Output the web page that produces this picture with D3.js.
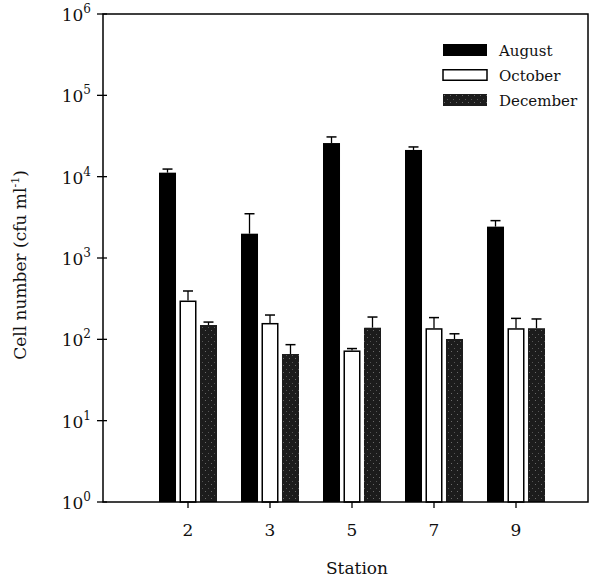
<!DOCTYPE html>
<html>
<head>
<meta charset="utf-8">
<script src="https://cdn.jsdelivr.net/npm/d3@7"></script>
<style>
body{margin:0;background:#fff;}
text{font-family:"DejaVu Serif","Liberation Serif",serif;fill:#111;}
</style>
</head>
<body>
<div id="chart"></div>
<script>
//数据
var stations=["2","3","5","7","9"];
var seriesNames=["August","October","December"];
var august=[11200,1990,25900,21300,2430];
var augustErr=[12400,3500,30800,23200,2880];
var october=[300,159,73,137,137];
var octoberErr=[393,199,77,185,181];
var december=[150,66,139,101,137];
var decemberErr=[163,86,188,117,178];
var yTicks=[0,1,2,3,4,5,6];

var svgwidth=598,svgheight=578;
var _svg=d3.select("#chart").append("svg")
    .attr("width",svgwidth)
    .attr("height",svgheight);

//图案(十二月的点状填充)
var defs=_svg.append("defs");
var pat=defs.append("pattern")
    .attr("id","stip")
    .attr("width",6).attr("height",7)
    .attr("patternUnits","userSpaceOnUse");
pat.append("rect").attr("width",6).attr("height",7).attr("fill","#1c1c1c");
pat.append("rect").attr("x",1).attr("y",1).attr("width",1).attr("height",1).attr("fill","#6a6a6a");
pat.append("rect").attr("x",4).attr("y",5).attr("width",1).attr("height",1).attr("fill","#555");

//绘图区边界
var pLeft=103,pRight=588,pTop=14,pBottom=502;

var y=d3.scaleLog().domain([1,1e6]).range([pBottom,pTop]);
var x=d3.scaleBand().domain(stations).range([147,557]).padding(0);
var sub=d3.scaleBand().domain(seriesNames).range([-29,29]).paddingInner(0.17);

var fills={August:"#000",October:"#fff",December:"url(#stip)"};
var vals={August:august,October:october,December:december};
var errs={August:augustErr,October:octoberErr,December:decemberErr};

function cx(s,i){
    return x(stations[i])+x.bandwidth()/2+sub(s)+sub.bandwidth()/2;
}

var g=_svg.append("g");

//柱子
seriesNames.forEach(function(s){
    var gs=g.append("g").attr("class","bars-"+s);
    gs.selectAll("line.err")
        .data(vals[s])
        .enter()
        .append("line")
        .attr("x1",function(d,i){return cx(s,i);})
        .attr("x2",function(d,i){return cx(s,i);})
        .attr("y1",function(d){return y(d);})
        .attr("y2",function(d,i){return y(errs[s][i]);})
        .attr("stroke","#000").attr("stroke-width",1.3);
    gs.selectAll("line.cap")
        .data(errs[s])
        .enter()
        .append("line")
        .attr("x1",function(d,i){return cx(s,i)-5;})
        .attr("x2",function(d,i){return cx(s,i)+5;})
        .attr("y1",function(d){return y(d);})
        .attr("y2",function(d){return y(d);})
        .attr("stroke","#000").attr("stroke-width",1.5);
    var o=(s=="October")?0.75:0;
    gs.selectAll("rect")
        .data(vals[s])
        .enter()
        .append("rect")
        .attr("x",function(d,i){return cx(s,i)-sub.bandwidth()/2+o;})
        .attr("y",function(d){return y(d)+o;})
        .attr("width",sub.bandwidth()-2*o)
        .attr("height",function(d){return pBottom-y(d)-o;})
        .attr("fill",fills[s])
        .attr("stroke",s=="October"?"#000":"none")
        .attr("stroke-width",1.5);
});

//边框
g.append("rect")
    .attr("x",pLeft).attr("y",pTop)
    .attr("width",pRight-pLeft).attr("height",pBottom-pTop)
    .attr("fill","none").attr("stroke","#000").attr("stroke-width",1.5);

//y轴刻度
var gy=g.append("g");
gy.selectAll("line")
    .data(yTicks)
    .enter()
    .append("line")
    .attr("x1",pLeft-6).attr("x2",pLeft+4)
    .attr("y1",function(d){return y(Math.pow(10,d));})
    .attr("y2",function(d){return y(Math.pow(10,d));})
    .attr("stroke","#000").attr("stroke-width",1.3);
var ylab=gy.selectAll("text")
    .data(yTicks)
    .enter()
    .append("text")
    .attr("x",91)
    .attr("y",function(d){return y(Math.pow(10,d))+7;})
    .attr("text-anchor","end")
    .attr("font-size","17px");
ylab.append("tspan").text("10");
ylab.append("tspan").attr("dy",-8).attr("font-size","12px").text(function(d){return d;});

//x轴刻度
var gx=g.append("g");
gx.selectAll("line")
    .data(stations)
    .enter()
    .append("line")
    .attr("x1",function(d){return x(d)+x.bandwidth()/2;})
    .attr("x2",function(d){return x(d)+x.bandwidth()/2;})
    .attr("y1",pBottom).attr("y2",pBottom+6)
    .attr("stroke","#000").attr("stroke-width",1.3);
gx.selectAll("text")
    .data(stations)
    .enter()
    .append("text")
    .attr("x",function(d){return x(d)+x.bandwidth()/2;})
    .attr("y",536)
    .attr("text-anchor","middle")
    .attr("font-size","17px")
    .text(function(d){return d;});

//轴标题
g.append("text")
    .attr("x",357).attr("y",574)
    .attr("text-anchor","middle")
    .attr("font-size","17px")
    .text("Station");
var yt=g.append("text")
    .attr("transform","translate(26,265) rotate(-90)")
    .attr("text-anchor","middle")
    .attr("font-size","17px");
yt.append("tspan").text("Cell number (cfu ml");
yt.append("tspan").attr("dy",-7).attr("font-size","11px").text("-1");
yt.append("tspan").attr("dy",7).text(")");

//图例
var leg=g.append("g").attr("transform","translate(443,44)");
var li=leg.selectAll("g")
    .data(seriesNames)
    .enter()
    .append("g")
    .attr("transform",function(d,i){return "translate(0,"+(i*25)+")";});
li.append("rect")
    .attr("x",0).attr("y",function(d){return d=="October"?0.75:0;})
    .attr("width",44).attr("height",function(d){return d=="October"?10.5:12;})
    .attr("fill",function(d){return fills[d];})
    .attr("stroke",function(d){return d=="October"?"#000":"none";})
    .attr("stroke-width",1.5);
li.append("text")
    .attr("x",56).attr("y",12)
    .attr("font-size","15px")
    .text(function(d){return d;});
</script>
</body>
</html>
